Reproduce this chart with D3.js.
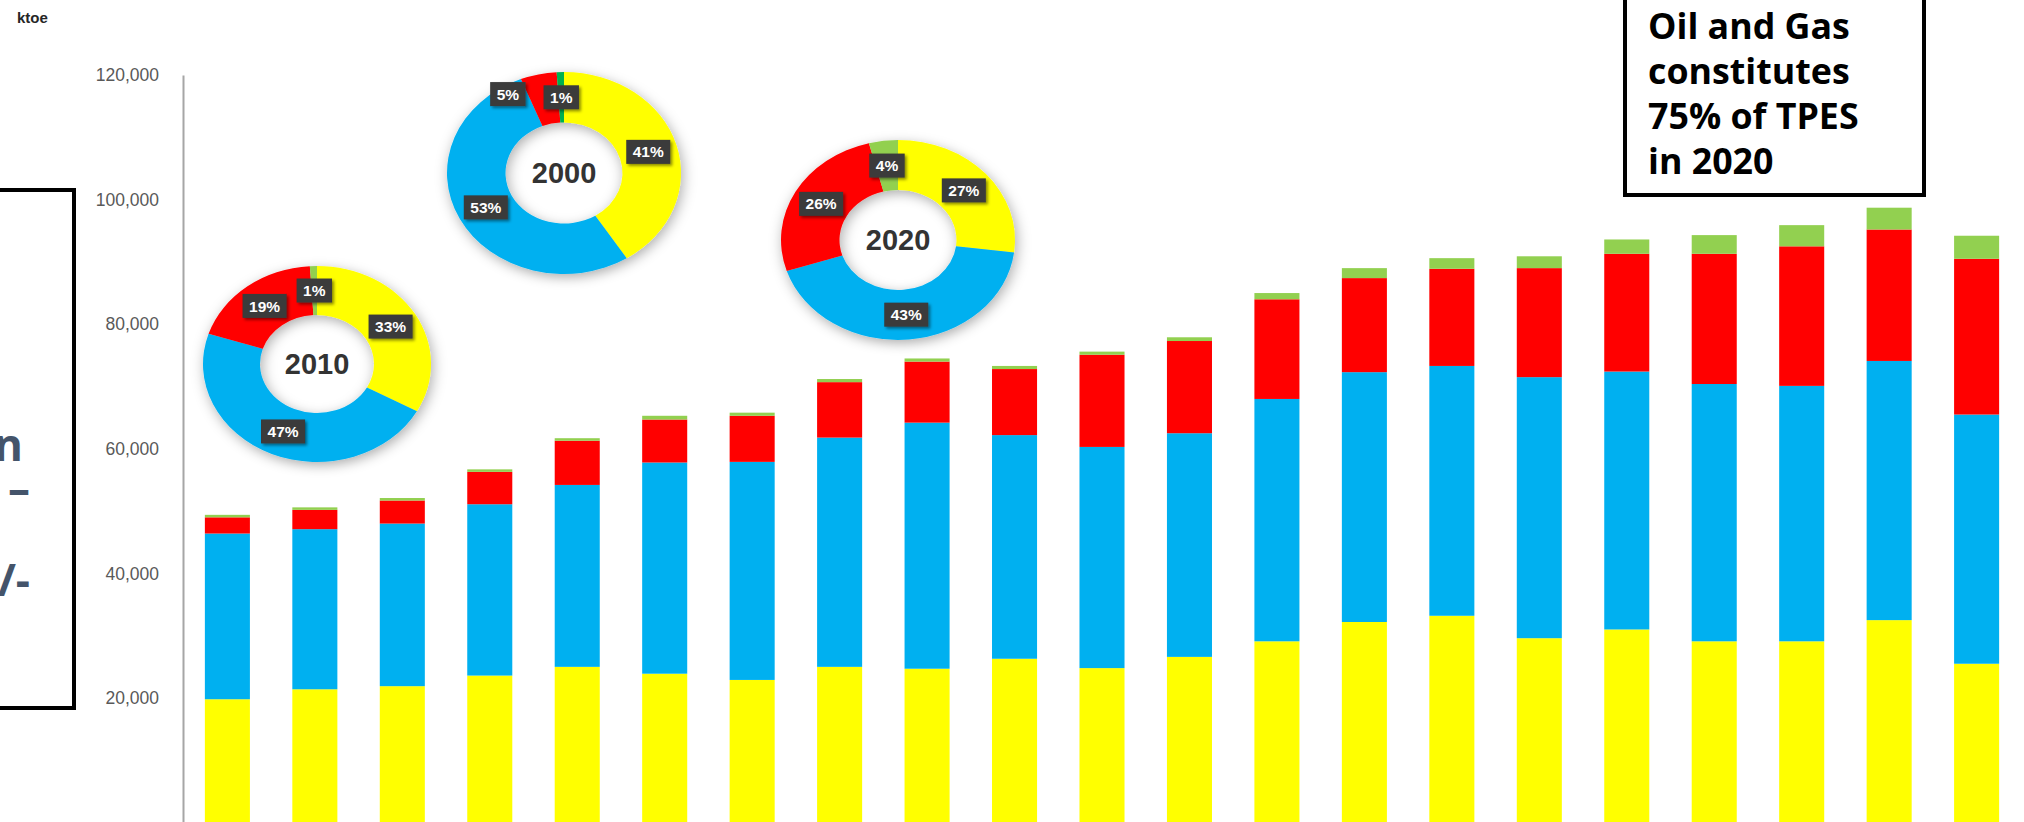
<!DOCTYPE html>
<html>
<head>
<meta charset="utf-8">
<script src="https://cdn.jsdelivr.net/npm/d3@7/dist/d3.min.js"></script>
<style>
  html, body { margin: 0; padding: 0; background: #ffffff; overflow: hidden; }
  svg { display: block; }
</style>
</head>
<body>
<svg id="chart" width="2024" height="822"></svg>
<script>
// ---- Data: total primary energy supply by fuel, ktoe ----
const years = [2000, 2001, 2002, 2003, 2004, 2005, 2006, 2007, 2008, 2009, 2010,
               2011, 2012, 2013, 2014, 2015, 2016, 2017, 2018, 2019, 2020];
const oil   = [19800, 21400, 21900, 23600, 25000, 23900, 22900, 25000, 24700, 26300, 24800,
               26600, 29100, 32200, 33200, 29600, 31000, 29100, 29100, 32500, 25500];
const gas   = [26600, 25700, 26100, 27500, 29200, 33900, 35000, 36800, 39500, 35900, 35500,
               35900, 38900, 40100, 40100, 41900, 41400, 41300, 41000, 41600, 40000];
const coal  = [2600, 3100, 3700, 5200, 7100, 6900, 7400, 8900, 9800, 10600, 14800,
               14800, 16000, 15100, 15600, 17500, 18900, 20900, 22400, 21100, 25000];
const renew = [400, 400, 400, 400, 400, 600, 500, 500, 500, 500, 500,
               600, 1000, 1600, 1700, 1900, 2300, 3000, 3400, 3500, 3700];

const yTicks = [20000, 40000, 60000, 80000, 100000, 120000];

// Fuel shares (%) for the highlighted years: oil, gas, coal, renewables
const shareYears = ["2000", "2010", "2020"];
const shares2000 = [41, 53, 5, 1];
const shares2010 = [33, 47, 19, 1];
const shares2020 = [27, 43, 26, 4];

const noteLines = ["Oil and Gas", "constitutes", "75% of TPES", "in 2020"];

// ---- Setup ----
const svg = d3.select("#chart");
const W = 2024, H = 822;
const fuelColors = ["#FFFF00", "#00B0F0", "#FF0000", "#92D050"];

const defs = svg.append("defs");
const ringShadow = defs.append("filter").attr("id", "ringShadow")
  .attr("x", "-30%").attr("y", "-30%").attr("width", "160%").attr("height", "160%");
ringShadow.append("feDropShadow").attr("dx", 2).attr("dy", 4)
  .attr("stdDeviation", 7).attr("flood-color", "#000").attr("flood-opacity", 0.32);
const tagShadow = defs.append("filter").attr("id", "tagShadow")
  .attr("x", "-30%").attr("y", "-30%").attr("width", "160%").attr("height", "160%");
tagShadow.append("feDropShadow").attr("dx", 2).attr("dy", 2)
  .attr("stdDeviation", 1.5).attr("flood-color", "#000").attr("flood-opacity", 0.45);

// ---- Scales ----
const y = d3.scaleLinear().domain([0, 120000]).range([822.6, 75]);
const x = d3.scaleBand().domain(years).range([183, 2021])
  .paddingInner(0.485).paddingOuter(0.25);

// ---- Axis ----
const axis = svg.append("g").attr("transform", "translate(183,0)")
  .call(d3.axisLeft(y).tickValues(yTicks).tickSize(0).tickSizeOuter(0)
    .tickPadding(24).tickFormat(d3.format(",")));
axis.select(".domain").attr("stroke", "#A6A6A6").attr("stroke-width", 2);
axis.selectAll(".tick text")
  .attr("fill", "#595959")
  .style("font-family", "'Liberation Sans', Arial, sans-serif")
  .style("font-size", "17.5px");

svg.append("text").attr("x", 17).attr("y", 23)
  .attr("fill", "#262626")
  .style("font-family", "'Liberation Sans', Arial, sans-serif")
  .style("font-weight", "bold").style("font-size", "15px")
  .text("ktoe");

// ---- Stacked bars ----
const rows = years.map((yr, i) => ({ year: yr, oil: oil[i], gas: gas[i], coal: coal[i], renew: renew[i] }));
const keys = ["oil", "gas", "coal", "renew"];
const stacked = d3.stack().keys(keys)(rows);

svg.append("g").selectAll("g").data(stacked).join("g")
  .attr("fill", (d, i) => fuelColors[i])
  .selectAll("rect").data(d => d).join("rect")
  .attr("x", d => x(d.data.year))
  .attr("width", x.bandwidth())
  .attr("y", d => y(d[1]))
  .attr("height", d => y(d[0]) - y(d[1]));

// ---- Share donuts ----
const donutLayout = [
  { year: "2000", shares: shares2000, cx: 564, cy: 173, r: 117, sy: 101 / 117, green: "#00B050" },
  { year: "2010", shares: shares2010, cx: 317, cy: 364, r: 114, sy: 98 / 114,  green: "#92D050" },
  { year: "2020", shares: shares2020, cx: 898, cy: 240, r: 117, sy: 100 / 117, green: "#92D050" }
];
// small slices whose tag is pulled off the centroid to stay readable
const tagNudge = { "2000-2": [-37, -5] };

const pie = d3.pie().sort(null).value(d => d);

donutLayout.forEach(dn => {
  const inner = dn.r * 0.5;
  const arc = d3.arc().innerRadius(inner).outerRadius(dn.r);
  const mid = d3.arc().innerRadius((inner + dn.r) / 2).outerRadius((inner + dn.r) / 2);
  const colors = [fuelColors[0], fuelColors[1], fuelColors[2], dn.green];
  const arcs = pie(dn.shares);

  const g = svg.append("g").attr("transform", `translate(${dn.cx},${dn.cy})`);
  g.append("g").attr("filter", "url(#ringShadow)")
    .attr("transform", `scale(1,${dn.sy})`)
    .selectAll("path").data(arcs).join("path")
    .attr("d", arc)
    .attr("fill", (d, i) => colors[i]);

  g.append("text")
    .attr("text-anchor", "middle").attr("dy", "0.36em")
    .attr("fill", "#333333")
    .style("font-family", "'Liberation Sans', Arial, sans-serif")
    .style("font-weight", "bold").style("font-size", "29px")
    .text(dn.year);

  arcs.forEach((a, i) => {
    const c = mid.centroid(a);
    const nudge = tagNudge[dn.year + "-" + i] || [0, 0];
    const px = c[0] + nudge[0], py = c[1] * dn.sy + nudge[1];
    const tag = g.append("g").attr("transform", `translate(${px},${py})`);
    const rect = tag.append("rect").attr("fill", "#3a3a3a").attr("filter", "url(#tagShadow)");
    const t = tag.append("text")
      .attr("text-anchor", "middle").attr("dy", "0.36em")
      .attr("fill", "#ffffff")
      .style("font-family", "'Liberation Sans', Arial, sans-serif")
      .style("font-weight", "bold").style("font-size", "15.5px")
      .text(a.data + "%");
    const tw = t.node().getComputedTextLength();
    rect.attr("x", -(tw + 13) / 2).attr("y", -12).attr("width", tw + 13).attr("height", 24);
  });
});

// ---- Note box (right) ----
svg.append("rect").attr("x", 1625).attr("y", -10).attr("width", 299).attr("height", 205)
  .attr("fill", "#ffffff").attr("stroke", "#000000").attr("stroke-width", 4);
const note = svg.append("g")
  .style("font-family", "'Open Sans', sans-serif").style("font-weight", 700)
  .attr("fill", "#000000");
const probe = note.append("text").style("font-size", "100px").text(noteLines[0]);
const noteSize = 100 * 202 / probe.node().getComputedTextLength();
probe.remove();
note.selectAll("text").data(noteLines).join("text")
  .attr("x", 1648)
  .attr("y", (d, i) => 39 + i * 45)
  .style("font-size", noteSize + "px")
  .text(d => d);

// ---- Side box (left, extends past the page edge) ----
svg.append("rect").attr("x", -20).attr("y", 190).attr("width", 94).attr("height", 518)
  .attr("fill", "none").attr("stroke", "#000000").attr("stroke-width", 4);
const side = svg.append("g")
  .style("font-family", "'Open Sans', sans-serif").style("font-weight", 700)
  .style("font-size", "44px").attr("fill", "#44546A").attr("text-anchor", "end");
side.append("text").attr("x", 23).attr("y", 461).text("n");
side.append("text").attr("x", 30).attr("y", 505).text("\u2013");
side.append("text").attr("x", 30).attr("y", 596).text("/-");
</script>
</body>
</html>
